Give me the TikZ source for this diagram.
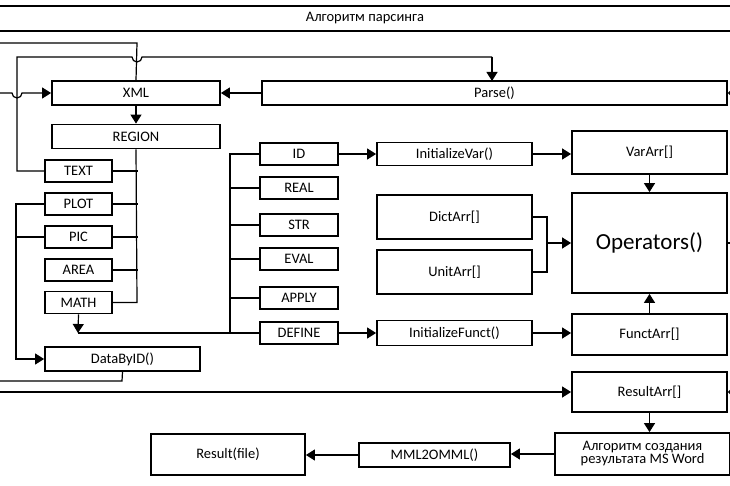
\documentclass[tikz,border=0pt]{standalone}
\usepackage{fontspec}
\setmainfont{Carlito}
\usetikzlibrary{arrows.meta}
\begin{document}
\begin{tikzpicture}[x=1pt,y=-1pt,
  box/.style={draw,line width=1.8pt,inner sep=0pt,font=\fontsize{14.5}{16}\selectfont,align=center},
  ln/.style={line width=1.2pt},
  ar/.style={ln,-{Triangle[length=9pt,width=11pt]}}]
\useasboundingbox (0,0) rectangle (730,486);
% title
\draw[line width=2pt] (0,6) -- (730,6);
\draw[line width=2pt] (0,31) -- (730,31);
\node[font=\fontsize{14.5}{16}\selectfont] (title) at (365,18.5) {Алгоритм парсинга};
% boxes
\node[box,minimum width=168pt,minimum height=24pt] (xml) at (136,93) {XML};
\node[box,minimum width=168pt,minimum height=24pt] (region) at (136,136.5) {REGION};
\node[box,minimum width=465pt,minimum height=24pt] (parse) at (494.5,93) {Parse()};
\foreach \n/\t/\y in {text/TEXT/171,plot/PLOT/204,pic/PIC/237,area/AREA/270,math/MATH/302.5}
  \node[box,minimum width=67pt,minimum height=22pt] (\n) at (78.5,\y) {\t};
\foreach \n/\t/\y in {id/ID/154,real/REAL/188,str/STR/225,eval/EVAL/259,apply/APPLY/298,define/DEFINE/333}
  \node[box,minimum width=78pt,minimum height=22pt] (\n) at (299,\y) {\t};
\node[box,minimum width=155pt,minimum height=23pt] (ivar) at (454.5,154) {InitializeVar()};
\node[box,minimum width=155pt,minimum height=25pt] (ifun) at (454.5,333) {InitializeFunct()};
\node[box,minimum width=155pt,minimum height=44pt] (dict) at (454.5,217) {DictArr[]};
\node[box,minimum width=155pt,minimum height=44pt] (unit) at (454.5,272) {UnitArr[]};
\node[box,minimum width=155pt,minimum height=43pt] (var) at (649.5,152.5) {VarArr[]};
\node[box,minimum width=155pt,minimum height=100pt,font=\fontsize{23}{26}\selectfont] (ops) at (649.5,243) {Operators()};
\node[box,minimum width=155pt,minimum height=41pt] (fun) at (649.5,334.5) {FunctArr[]};
\node[box,minimum width=155pt,minimum height=40pt] (res) at (649.5,392) {ResultArr[]};
\node[box,minimum width=175pt,minimum height=42pt] (alg) at (642.5,454) {Алгоритм создания\\[-3pt]результата MS Word};
\node[box,minimum width=151pt,minimum height=24pt] (mml) at (434.5,455) {MML2OMML()};
\node[box,minimum width=154pt,minimum height=41pt] (rfile) at (228,454.5) {Result(file)};
\node[box,minimum width=155pt,minimum height=24pt] (dbid) at (122.5,359) {DataByID()};
% coordinates
\coordinate (mdn) at (78,333);
\coordinate (lt1) at (0,43);
\coordinate (lt2) at (0,93);
\coordinate (lt3) at (0,381);
\coordinate (lt4) at (0,392);
\coordinate (rt1) at (730,93);
\coordinate (rt2) at (730,243);
\coordinate (rt3) at (730,392);
\coordinate (mg) at (547,243);
% region bus
\draw[ln] (region.south) -- (137,302.5) -- (math.east);
\foreach \n in {text,plot,pic,area} \draw[ln] (\n.east) -- ++(25,0);
\draw[ar] (xml.south) -- (region.north);
% second bus
\draw[ln] (id.west) -| (230,333) -- (define.west);
\foreach \n in {real,str,eval,apply} \draw[ln] (\n.west) -- ++(-30,0);
\draw[ln] (mdn) -- (230,333);
\draw[ar] (math.south) -- (mdn);
% left loops
\draw[ln] (text.west) -- (17,171) -- (17,57) -- (132,57) arc[start angle=180,end angle=0,radius=5] -- (492,57);
\draw[ar] (492,57) -- (492,81);
\draw[ln] (lt1) -- (137,43) -- (xml.north);
\draw[ar] (lt2) -- (12,93) arc[start angle=180,end angle=0,radius=5] -- (xml.west);
\draw[ar] (parse.west) -- (xml.east);
\draw[ln,-{Triangle[length=4pt,width=8pt]}] (rt1) -- (parse.east);
\draw[ar] (plot.west) -- (16,204) -- (16,359) -- (dbid.west);
\draw[ln] (pic.west) -- (16,237);
\draw[ln] (dbid.south) -- (122,381) -- (lt3);
\draw[ar] (lt4) -- (res.west|-lt4);
% right side
\draw[ar] (id.east) -- (ivar.west);
\draw[ar] (define.east) -- (ifun.west);
\draw[ar] (ivar.east) -- (var.west|-ivar.east);
\draw[ar] (ifun.east) -- (fun.west|-ifun.east);
\draw[ln] (dict.east) -| (mg);
\draw[ln] (unit.east) -| (mg);
\draw[ar] (mg) -- (ops.west);
\draw[ar] (var.south) -- (ops.north);
\draw[ar] (fun.north) -- (ops.south);
\draw[ln] (ops.east) -- (rt2);
\draw[ln,-{Triangle[length=4pt,width=8pt]}] (rt3) -- (res.east);
\draw[ar] (res.south) -- (res.south|-alg.north);
\draw[ar] (alg.west) -- (mml.east|-alg.west);
\draw[ar] (mml.west) -- (rfile.east|-mml.west);
\end{tikzpicture}
\end{document}
